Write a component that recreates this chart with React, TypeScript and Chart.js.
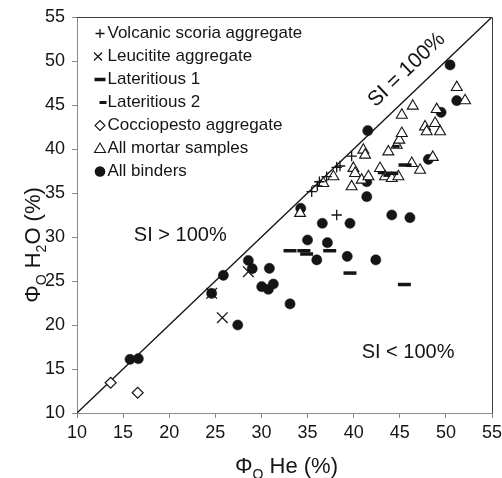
import React, { useEffect, useRef } from "react";
import { Chart, registerables } from "chart.js";

Chart.register(...registerables);

// ---------- data (Φo He %, Φo H2O %) ----------
const volcanicScoria: [number, number][] = [
  [35.45, 35.15], [36.06, 35.8], [36.28, 36.28], [37.07, 36.86],
  [38.16, 37.92], [38.52, 38.07], [39.78, 39.2], [38.16, 32.5],
];
const leucitite: [number, number][] = [
  [24.6, 23.6], [25.76, 20.83], [28.58, 26.06],
];
const lateritious1: [number, number][] = [
  [33.1, 28.44], [34.6, 28.44], [34.9, 28.07], [37.4, 28.44],
  [39.6, 25.9], [45.5, 24.6], [44.13, 37.24], [45.57, 38.18],
];
const lateritious2: [number, number][] = [
  [43.0, 37.3], [43.6, 37.0], [44.6, 40.3],
];
const cocciopesto: [number, number][] = [
  [13.65, 13.44], [16.58, 12.3],
];
const mortars: [number, number][] = [
  [34.19, 32.7], [36.71, 36.1], [37.8, 36.86], [39.78, 35.72], [39.97, 37.81],
  [40.15, 37.24], [41.05, 39.89], [41.24, 39.32], [40.87, 36.48], [41.6, 36.86],
  [42.86, 37.8], [43.4, 36.86], [44.13, 36.67], [44.85, 36.86], [46.3, 38.37],
  [47.2, 37.6], [48.58, 39.06], [43.76, 39.69], [44.67, 40.45], [44.95, 41.02],
  [45.22, 41.78], [45.22, 43.86], [46.41, 44.89], [47.74, 42.53], [48.83, 42.92],
  [49.37, 41.97], [47.92, 41.97], [49.0, 44.5], [51.18, 47.0], [52.08, 45.5],
];
const binders: [number, number][] = [
  [15.75, 16.1], [16.65, 16.17], [24.6, 23.6], [25.87, 25.65], [27.43, 20.0],
  [28.58, 27.33], [29.0, 26.4], [30.86, 26.44], [30.03, 24.35], [30.75, 24.06],
  [31.29, 24.66], [33.1, 22.4], [34.26, 33.26], [35.0, 29.66], [37.15, 29.35],
  [36.6, 31.56], [39.6, 31.56], [36.0, 27.4], [39.3, 27.8], [42.4, 27.4],
  [44.13, 32.5], [46.1, 32.2], [41.42, 34.58], [41.42, 36.28], [41.53, 42.08],
  [48.1, 38.83], [49.48, 44.17], [51.18, 45.5], [50.45, 49.55],
];
const identityLine = [10, 55];

const seriesNames = [
  "Volcanic scoria aggregate",
  "Leucitite aggregate",
  "Lateritious 1",
  "Lateritious 2",
  "Cocciopesto aggregate",
  "All mortar samples",
  "All binders",
];

const axisMin = 10;
const axisMax = 55;
const tickStep = 5;

const INK = "#151515";
const AXIS = "#8a8a8a";
const FONT = "'Liberation Sans', Arial, Helvetica, sans-serif";

const toPts = (arr: [number, number][]) => arr.map(([x, y]) => ({ x, y }));

function makeSymbol(kind: string): HTMLCanvasElement {
  const c = document.createElement("canvas");
  c.width = 40;
  c.height = 21;
  const g = c.getContext("2d")!;
  const cx = 29;
  const cy = 10.5;
  g.strokeStyle = INK;
  g.fillStyle = INK;
  g.lineWidth = 1.3;
  g.beginPath();
  if (kind === "plus") {
    g.moveTo(cx - 4.5, cy); g.lineTo(cx + 4.5, cy);
    g.moveTo(cx, cy - 4.5); g.lineTo(cx, cy + 4.5);
    g.stroke();
  } else if (kind === "cross") {
    const d = 4, x0 = cx - 2;
    g.moveTo(x0 - d, cy - d); g.lineTo(x0 + d, cy + d);
    g.moveTo(x0 + d, cy - d); g.lineTo(x0 - d, cy + d);
    g.stroke();
  } else if (kind === "dashLong") {
    g.fillRect(cx - 5.5, cy - 1.75, 11, 3.5);
  } else if (kind === "dashShort") {
    g.fillRect(cx + 3 - 3.5, cy - 1.5, 7, 3);
  } else if (kind === "diamond") {
    g.moveTo(cx, cy - 5); g.lineTo(cx + 5, cy); g.lineTo(cx, cy + 5); g.lineTo(cx - 5, cy);
    g.closePath();
    g.fillStyle = "#fff"; g.fill();
    g.lineWidth = 1.1; g.stroke();
  } else if (kind === "triangle") {
    g.moveTo(cx, cy - 5.5); g.lineTo(cx + 5.5, cy + 4); g.lineTo(cx - 5.5, cy + 4);
    g.closePath();
    g.fillStyle = "#fff"; g.fill();
    g.lineWidth = 1.1; g.stroke();
  } else if (kind === "circle") {
    g.arc(cx, cy, 5.3, 0, Math.PI * 2);
    g.fill();
  }
  return c;
}

function drawRich(
  ctx: CanvasRenderingContext2D,
  parts: { t: string; sub?: boolean }[],
  cx: number,
  baseY: number,
  size: number,
  subSize: number
) {
  const big = `${size}px ${FONT}`;
  const small = `${subSize}px ${FONT}`;
  let total = 0;
  const widths = parts.map((p) => {
    ctx.font = p.sub ? small : big;
    const w = ctx.measureText(p.t).width;
    total += w;
    return w;
  });
  let x = cx - total / 2;
  ctx.textAlign = "left";
  ctx.textBaseline = "alphabetic";
  parts.forEach((p, i) => {
    ctx.font = p.sub ? small : big;
    ctx.fillText(p.t, x, baseY + (p.sub ? size * 0.25 : 0));
    x += widths[i];
  });
}

const decorPlugin = {
  id: "decor",
  afterDatasetsDraw(chart: any) {
    const { ctx, chartArea, scales } = chart;
    const xs = scales.x;
    const ys = scales.y;
    ctx.save();
    // top & right frame
    ctx.strokeStyle = "#3a3a3a";
    ctx.lineWidth = 1;
    ctx.beginPath();
    ctx.moveTo(chartArea.left, Math.round(chartArea.top) + 0.5);
    ctx.lineTo(Math.round(chartArea.right) + 0.5, Math.round(chartArea.top) + 0.5);
    ctx.lineTo(Math.round(chartArea.right) + 0.5, chartArea.bottom);
    ctx.stroke();

    ctx.fillStyle = INK;
    // region labels
    ctx.font = `20px ${FONT}`;
    ctx.textAlign = "center";
    ctx.textBaseline = "middle";
    ctx.fillText("SI > 100%", xs.getPixelForValue(21.2), ys.getPixelForValue(30.2));
    ctx.fillText("SI < 100%", xs.getPixelForValue(45.9), ys.getPixelForValue(16.9));

    // rotated label along identity line
    const ang = Math.atan2(
      ys.getPixelForValue(axisMax) - ys.getPixelForValue(axisMin),
      xs.getPixelForValue(axisMax) - xs.getPixelForValue(axisMin)
    );
    ctx.save();
    ctx.translate(xs.getPixelForValue(45.75), ys.getPixelForValue(49.0));
    ctx.rotate(ang);
    ctx.font = `21px ${FONT}`;
    ctx.fillText("SI = 100%", 0, 0);
    ctx.restore();

    // axis titles
    const cxTitle = (chartArea.left + chartArea.right) / 2 + 2;
    drawRich(ctx, [{ t: "Φ" }, { t: "O", sub: true }, { t: " He (%)" }], cxTitle, 473, 22, 14);
    ctx.save();
    ctx.translate(40, 245);
    ctx.rotate(-Math.PI / 2);
    drawRich(
      ctx,
      [{ t: "Φ" }, { t: "O", sub: true }, { t: " H" }, { t: "2", sub: true }, { t: "O (%)" }],
      0,
      0,
      22,
      14
    );
    ctx.restore();
    ctx.restore();
  },
};

export default function App() {
  const ref = useRef<HTMLCanvasElement>(null);

  useEffect(() => {
    document.body.style.margin = "0";
    const canvas = ref.current!;
    const symbols = [
      makeSymbol("plus"),
      makeSymbol("cross"),
      makeSymbol("dashLong"),
      makeSymbol("dashShort"),
      makeSymbol("diamond"),
      makeSymbol("triangle"),
      makeSymbol("circle"),
    ];

    const base = { showLine: false, pointHoverRadius: 0 };
    const datasets: any[] = [
      { ...base, label: seriesNames[0], data: toPts(volcanicScoria), pointStyle: "cross", pointRadius: 5.2, borderColor: INK, backgroundColor: INK, borderWidth: 1.3 },
      { ...base, label: seriesNames[1], data: toPts(leucitite), pointStyle: "crossRot", pointRadius: 7.5, borderColor: INK, backgroundColor: INK, borderWidth: 1.3 },
      { ...base, label: seriesNames[2], data: toPts(lateritious1), pointStyle: "line", pointRadius: 6.5, borderColor: INK, backgroundColor: INK, borderWidth: 3.5 },
      { ...base, label: seriesNames[3], data: toPts(lateritious2), pointStyle: "line", pointRadius: 3.5, borderColor: INK, backgroundColor: INK, borderWidth: 3 },
      { ...base, label: seriesNames[4], data: toPts(cocciopesto), pointStyle: "rectRot", pointRadius: 5.5, borderColor: INK, backgroundColor: "#ffffff", borderWidth: 1.2 },
      { ...base, label: seriesNames[5], data: toPts(mortars), pointStyle: "triangle", pointRadius: 6.3, borderColor: INK, backgroundColor: "#ffffff", borderWidth: 1.1 },
      { ...base, label: seriesNames[6], data: toPts(binders), pointStyle: "circle", pointRadius: 5.1, borderColor: INK, backgroundColor: INK, borderWidth: 0.5 },
      {
        label: "SI = 100%",
        data: identityLine.map((v) => ({ x: v, y: v })),
        showLine: true,
        pointRadius: 0,
        borderColor: INK,
        borderWidth: 1.3,
        fill: false,
      },
    ];

    const chart = new Chart(canvas, {
      type: "scatter",
      data: { datasets },
      options: {
        animation: false,
        responsive: false,
        devicePixelRatio: 1,
        events: [],
        layout: { padding: { top: 17, right: 10, left: 0, bottom: 0 } },
        font: { family: FONT },
        plugins: {
          tooltip: { enabled: false },
          title: { display: false },
          legend: {
            display: true,
            position: "chartArea",
            align: "start",
            title: {
              display: true,
              text: " ",
              padding: 4,
              font: { size: 11, lineHeight: 1, family: FONT },
            },
            labels: {
              usePointStyle: true,
              boxWidth: 16,
              boxHeight: 8,
              padding: 6,
              color: INK,
              font: { size: 17, family: FONT },
              generateLabels: (ch: any) => {
                const items = (Chart.defaults.plugins.legend.labels as any).generateLabels(ch);
                return items
                  .filter((it: any) => it.datasetIndex < 7)
                  .map((it: any) => ({ ...it, pointStyle: symbols[it.datasetIndex], rotation: 0, fontColor: INK }));
              },
            },
          },
        },
        scales: {
          x: {
            type: "linear",
            min: axisMin,
            max: axisMax,
            ticks: {
              stepSize: tickStep,
              autoSkip: false,
              maxRotation: 0,
              minRotation: 0,
              padding: 4,
              color: INK,
              font: { size: 18, family: FONT },
            },
            grid: { display: true, drawOnChartArea: false, drawTicks: true, tickLength: 5, color: AXIS, lineWidth: 1 },
            border: { display: true, color: AXIS, width: 1 },
            title: { display: false },
            afterFit: (scale: any) => {
              scale.height = 65;
              scale.paddingLeft = 0;
              scale.paddingRight = 0;
            },
          },
          y: {
            type: "linear",
            min: axisMin,
            max: axisMax,
            ticks: {
              stepSize: tickStep,
              autoSkip: false,
              padding: 7,
              color: INK,
              font: { size: 18, family: FONT },
            },
            grid: { display: true, drawOnChartArea: false, drawTicks: true, tickLength: 5, color: AXIS, lineWidth: 1 },
            border: { display: true, color: AXIS, width: 1 },
            title: { display: false },
            afterFit: (scale: any) => {
              scale.width = 77;
              scale.paddingTop = 0;
              scale.paddingBottom = 0;
            },
          },
        },
      } as any,
      plugins: [decorPlugin],
    });

    return () => chart.destroy();
  }, []);

  return (
    <div style={{ width: 502, height: 478 }}>
      <canvas ref={ref} width={502} height={478} style={{ display: "block" }} />
    </div>
  );
}
